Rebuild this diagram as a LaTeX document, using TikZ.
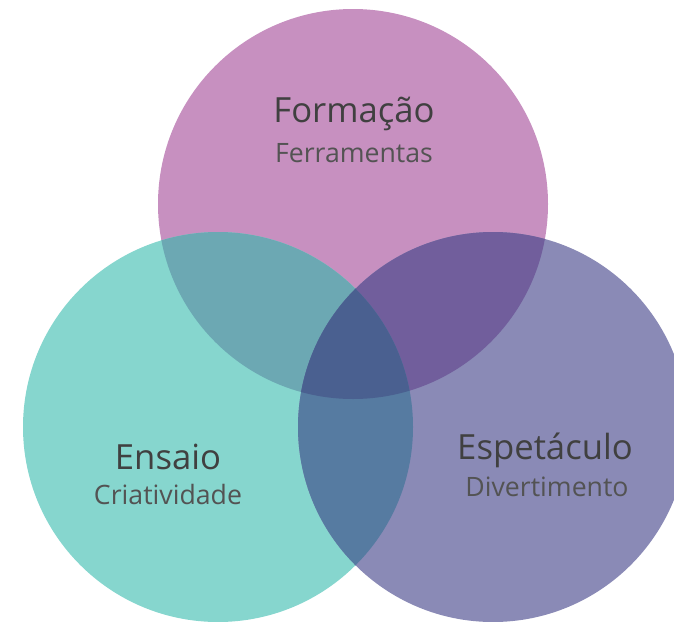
\documentclass[tikz,border=0pt]{standalone}
\usepackage{fontspec}
\setmainfont{Open Sans}
\definecolor{formacao}{HTML}{C790C0}
\definecolor{ensaio}{HTML}{86D6CE}
\definecolor{espetaculo}{HTML}{8A8AB6}
\definecolor{formensaio}{HTML}{6CA8B3}
\definecolor{formespet}{HTML}{715E9C}
\definecolor{ensespet}{HTML}{567BA1}
\definecolor{todos}{HTML}{4A6090}
\definecolor{texto}{HTML}{404040}
\tikzset{
    titulo/.style = {anchor = base, text = texto, font = \fontsize{26}{31}\selectfont, inner sep = 0pt},
    subtitulo/.style = {anchor = base, text = texto!90!white, font = \fontsize{20}{24}\selectfont, inner sep = 0pt}
}
\begin{document}
\begin{tikzpicture}[x = 0.75pt, y = -0.75pt, align = center]
        \useasboundingbox (0, 0) rectangle (674, 621);
        \clip (0, 0) rectangle (674, 621);

        \fill[formacao]   (353, 204) circle (195);
        \fill[ensaio]     (218, 427) circle (195);
        \fill[espetaculo] (493, 427) circle (195);

        \begin{scope}
            \clip (353, 204) circle (195);
            \fill[formensaio] (218, 427) circle (195);
            \fill[formespet]  (493, 427) circle (195);
        \end{scope}
        \begin{scope}
            \clip (218, 427) circle (195);
            \fill[ensespet] (493, 427) circle (195);
            \clip (353, 204) circle (195);
            \fill[todos] (493, 427) circle (195);
        \end{scope}

        \node[titulo]    (formacao)   at (354, 122) {Formação};
        \node[subtitulo] (ferramentas) at (354, 162) {Ferramentas};

        \node[titulo]    (ensaio)      at (168, 469) {Ensaio};
        \node[subtitulo] (criatividade) at (168, 504) {Criatividade};

        \node[titulo]    (espetaculo)  at (545, 459) {Espetáculo};
        \node[subtitulo] (divertimento) at (547, 496) {Divertimento};
    \end{tikzpicture}
\end{document}
